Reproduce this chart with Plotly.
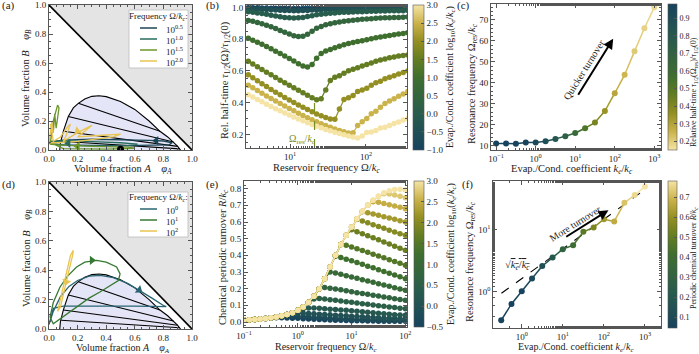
import numpy as np
import plotly.graph_objects as go
import plotly.colors as pc

FONT = "Liberation Serif"
W, H = 699, 354

CS = [[0.0, 'rgb(23,67,94)'], [0.25, 'rgb(40,92,76)'], [0.5, 'rgb(63,111,47)'],
      [0.62, 'rgb(98,124,34)'], [0.75, 'rgb(148,143,34)'], [0.87, 'rgb(201,177,72)'],
      [1.0, 'rgb(245,228,165)']]
CS_R = [[round(1 - p, 4), c] for p, c in reversed(CS)]


def col(v, lo, hi, scale=CS):
    t = min(max((v - lo) / (hi - lo), 0.0), 1.0)
    return pc.sample_colorscale(scale, [t])[0]


def PX(x):
    return x / W


def PY(y):
    return 1 - y / H


# ---------------- data: phase diagrams (a),(d) ----------------
BIN_A = [0.075, 0.08, 0.1, 0.135, 0.17, 0.205, 0.25, 0.3, 0.35, 0.4, 0.5, 0.6, 0.7, 0.776, 0.83, 0.87, 0.9, 0.92]
BIN_B = [0.0, 0.05, 0.129, 0.231, 0.29, 0.322, 0.352, 0.37, 0.374, 0.368, 0.335, 0.28, 0.2, 0.129, 0.09, 0.055, 0.025, 0.0]
TIE_A0 = [0.205, 0.135, 0.1, 0.085]
TIE_B0 = [0.322, 0.231, 0.129, 0.06]
TIE_A1 = [0.776, 0.87, 0.9, 0.915]
TIE_B1 = [0.129, 0.055, 0.025, 0.008]

LEGEND_TITLE = 'Frequency Ω/<i>k<sub>c</sub></i>:'
A_NAMES = ['10<sup>0.5</sup>', '10<sup>1.0</sup>', '10<sup>1.5</sup>', '10<sup>2.0</sup>']
A_COLORS = ['rgb(27,70,88)', 'rgb(40,108,92)', 'rgb(108,150,45)', 'rgb(232,196,80)']
A_TRAJ_A = [
    [0.0, 0.1, 0.3, 0.5, 0.7, 0.8, 0.86, 0.84, 0.7, 0.5, 0.3, 0.1, 0.0, 0.0],
    [0.0, 0.1, 0.3, 0.5, 0.62, 0.55, 0.35, 0.15, 0.02, 0.0],
    [0.01, 0.03, 0.06, 0.07, 0.05, 0.04, 0.03, 0.02, 0.01, 0.05, 0.3, 0.55, 0.6, 0.4, 0.1, 0.01],
    [0.0, 0.02, 0.03, 0.01, 0.03, 0.08, 0.13, 0.15, 0.12, 0.1, 0.2, 0.3, 0.25, 0.2, 0.35, 0.5, 0.45, 0.2, 0.05, 0.0],
]
A_TRAJ_B = [
    [0.055, 0.068, 0.074, 0.072, 0.066, 0.062, 0.05, 0.036, 0.032, 0.03, 0.032, 0.036, 0.045, 0.055],
    [0.06, 0.062, 0.058, 0.05, 0.04, 0.03, 0.028, 0.032, 0.04, 0.06],
    [0.05, 0.2, 0.31, 0.29, 0.15, 0.25, 0.12, 0.18, 0.04, 0.035, 0.025, 0.02, 0.012, 0.006, 0.01, 0.05],
    [0.05, 0.2, 0.12, 0.18, 0.06, 0.09, 0.16, 0.18, 0.1, 0.06, 0.12, 0.17, 0.13, 0.09, 0.1, 0.11, 0.09, 0.06, 0.05, 0.05],
]
A_ARROW_A = [0.75, 0.135, 0.2, 0.2]
A_ARROW_B = [0.064, 0.046, 0.026, 0.13]
A_ARROW_ANG = [270, 270, 270, 235]
DOT_A, DOT_B = [0.5], [0.006]

D_NAMES = ['10<sup>0</sup>', '10<sup>1</sup>', '10<sup>2</sup>']
D_COLORS = ['rgb(40,100,115)', 'rgb(55,120,50)', 'rgb(232,196,80)']
D_TRAJ_A = [
    [0.0, 0.03, 0.08, 0.14, 0.2, 0.28, 0.36, 0.45, 0.55, 0.63, 0.72, 0.8, 0.82, 0.6, 0.3, 0.1, 0.03, 0.0],
    [0.007, 0.03, 0.077, 0.13, 0.193, 0.25, 0.333, 0.4, 0.473, 0.497, 0.485, 0.42, 0.356, 0.28, 0.193, 0.1, 0.03, 0.007],
    [0.06, 0.09, 0.12, 0.15, 0.17, 0.165, 0.14, 0.12, 0.1, 0.08, 0.06],
]
D_TRAJ_B = [
    [0.03, 0.12, 0.22, 0.29, 0.33, 0.36, 0.365, 0.35, 0.31, 0.265, 0.21, 0.16, 0.152, 0.155, 0.157, 0.155, 0.14, 0.03],
    [0.08, 0.18, 0.286, 0.36, 0.422, 0.455, 0.467, 0.455, 0.422, 0.375, 0.33, 0.29, 0.252, 0.21, 0.15, 0.09, 0.036, 0.08],
    [0.12, 0.25, 0.38, 0.5, 0.535, 0.5, 0.4, 0.32, 0.22, 0.15, 0.12],
]
D_ARROW_A = [0.63, 0.3, 0.12]
D_ARROW_B = [0.265, 0.467, 0.32]
D_ARROW_ANG = [125, 90, 195]

# ---------------- data: (b) ----------------
B_X = 10 ** np.linspace(0.45, 2.55, 36)
B_KE = [-1.0, -0.5, 0.0, 0.5, 1.0, 1.5, 2.0, 2.5, 3.0]
B_VALS = [
    [0.997, 0.997, 0.997, 0.996, 0.996, 0.995, 0.995, 0.994, 0.994, 0.994, 0.993, 0.993,
     0.994, 0.994, 0.995, 0.995, 0.996, 0.996, 0.996, 0.997, 0.997, 0.997, 0.997, 0.997,
     0.998, 0.998, 0.998, 0.998, 0.998, 0.998, 0.998, 0.998, 0.998, 0.998, 0.998, 0.998],
    [0.991, 0.990, 0.989, 0.988, 0.986, 0.985, 0.983, 0.982, 0.981, 0.980, 0.979, 0.979,
     0.980, 0.981, 0.983, 0.984, 0.985, 0.986, 0.987, 0.988, 0.988, 0.989, 0.989, 0.989,
     0.990, 0.990, 0.990, 0.991, 0.991, 0.991, 0.991, 0.991, 0.992, 0.992, 0.992, 0.992],
    [0.972, 0.969, 0.965, 0.961, 0.956, 0.951, 0.946, 0.941, 0.937, 0.934, 0.933, 0.934,
     0.937, 0.942, 0.948, 0.953, 0.957, 0.960, 0.963, 0.965, 0.967, 0.969, 0.970, 0.971,
     0.972, 0.973, 0.974, 0.975, 0.976, 0.977, 0.977, 0.978, 0.978, 0.979, 0.979, 0.980],
    [0.918, 0.912, 0.905, 0.897, 0.888, 0.878, 0.867, 0.855, 0.843, 0.832, 0.822, 0.816,
     0.818, 0.830, 0.850, 0.868, 0.880, 0.890, 0.897, 0.903, 0.908, 0.912, 0.916, 0.919,
     0.922, 0.925, 0.927, 0.929, 0.931, 0.933, 0.934, 0.935, 0.936, 0.937, 0.938, 0.939],
    [0.805, 0.793, 0.780, 0.767, 0.753, 0.739, 0.724, 0.709, 0.694, 0.678, 0.662, 0.645,
     0.630, 0.625, 0.640, 0.680, 0.710, 0.725, 0.735, 0.745, 0.755, 0.765, 0.772, 0.778,
     0.785, 0.790, 0.796, 0.802, 0.808, 0.813, 0.818, 0.823, 0.828, 0.832, 0.836, 0.840],
    [0.660, 0.643, 0.626, 0.609, 0.592, 0.575, 0.558, 0.541, 0.525, 0.509, 0.493, 0.478,
     0.462, 0.446, 0.430, 0.418, 0.425, 0.480, 0.540, 0.560, 0.570, 0.585, 0.600, 0.610,
     0.620, 0.630, 0.640, 0.650, 0.660, 0.668, 0.675, 0.682, 0.688, 0.693, 0.697, 0.700],
    [0.575, 0.556, 0.537, 0.519, 0.501, 0.483, 0.466, 0.449, 0.432, 0.416, 0.400, 0.385,
     0.370, 0.356, 0.342, 0.329, 0.317, 0.306, 0.297, 0.295, 0.360, 0.420, 0.430, 0.445,
     0.470, 0.480, 0.490, 0.510, 0.525, 0.535, 0.550, 0.560, 0.570, 0.580, 0.590, 0.600],
    [0.510, 0.493, 0.476, 0.459, 0.442, 0.426, 0.410, 0.394, 0.378, 0.363, 0.348, 0.333,
     0.319, 0.305, 0.292, 0.279, 0.267, 0.255, 0.244, 0.234, 0.225, 0.216, 0.208, 0.210,
     0.255, 0.280, 0.300, 0.330, 0.345, 0.370, 0.395, 0.410, 0.425, 0.440, 0.455, 0.470],
    [0.450, 0.435, 0.420, 0.405, 0.390, 0.376, 0.362, 0.348, 0.335, 0.322, 0.309, 0.297,
     0.285, 0.273, 0.262, 0.251, 0.241, 0.231, 0.222, 0.213, 0.205, 0.197, 0.190, 0.183,
     0.177, 0.190, 0.212, 0.215, 0.225, 0.240, 0.245, 0.255, 0.268, 0.278, 0.290, 0.300],
]
B_RES_X = [21, 21]
B_RES_Y = [0.114, 0.418]

# ---------------- data: (c) ----------------
C_KE = [0.1, 0.178, 0.316, 0.562, 1, 1.78, 3.16, 5.62, 10, 17.8, 31.6, 56.2, 100, 178, 316, 562, 1000]
C_OMEGA = [11.0, 11.0, 10.9, 11.5, 11.5, 12.1, 13.2, 14.5, 16.0, 18.3, 21.0, 26.5, 35.0, 43.8, 55.0, 66.0, 76.0]
C_TAU = [0.994, 0.99, 0.979, 0.96, 0.933, 0.89, 0.816, 0.73, 0.625, 0.52, 0.418, 0.35, 0.292, 0.25, 0.208, 0.19, 0.177]

# ---------------- data: (e) ----------------
E_X = 10 ** np.linspace(-1, 2, 31)
E_ENV = [0.012, 0.013, 0.015, 0.018, 0.021, 0.025, 0.030, 0.037, 0.045, 0.055, 0.070, 0.090, 0.118, 0.155,
         0.200, 0.260, 0.330, 0.400, 0.465, 0.520, 0.570, 0.620, 0.665, 0.700, 0.730, 0.755, 0.775, 0.787,
         0.795, 0.800, 0.800]
E_KE = [-0.5, -0.25, 0.0, 0.25, 0.5, 0.75, 1.0, 1.25, 1.5, 1.75, 2.0, 2.25, 2.5, 2.75, 3.0]
E_SPLIT = [5, 7, 9, 11, 13, 15, 16, 17, 19, 20, 21, 22, 24, 26, 29]
E_TAILS = [
    [0.024, 0.025, 0.025, 0.024, 0.023, 0.022, 0.020, 0.018, 0.017, 0.015, 0.014, 0.012, 0.011, 0.010, 0.009,
     0.008, 0.007, 0.007, 0.006, 0.006, 0.005, 0.005, 0.005, 0.004, 0.004, 0.004],
    [0.034, 0.035, 0.035, 0.034, 0.033, 0.031, 0.029, 0.027, 0.025, 0.023, 0.021, 0.019, 0.018, 0.016, 0.015,
     0.014, 0.013, 0.012, 0.011, 0.010, 0.009, 0.009, 0.008, 0.008],
    [0.050, 0.052, 0.052, 0.051, 0.049, 0.047, 0.045, 0.043, 0.041, 0.039, 0.037, 0.035, 0.033, 0.031, 0.029,
     0.027, 0.025, 0.023, 0.022, 0.021, 0.020, 0.019],
    [0.080, 0.084, 0.084, 0.082, 0.080, 0.077, 0.075, 0.072, 0.070, 0.067, 0.064, 0.062, 0.059, 0.056, 0.053,
     0.050, 0.047, 0.044, 0.042, 0.040],
    [0.138, 0.141, 0.138, 0.134, 0.130, 0.126, 0.122, 0.118, 0.114, 0.110, 0.106, 0.102, 0.098, 0.094, 0.090,
     0.087, 0.083, 0.080],
    [0.207, 0.203, 0.198, 0.193, 0.187, 0.182, 0.176, 0.171, 0.166, 0.161, 0.156, 0.150, 0.145, 0.140, 0.135, 0.130],
    [0.300, 0.294, 0.286, 0.278, 0.270, 0.262, 0.254, 0.246, 0.238, 0.230, 0.222, 0.214, 0.206, 0.198, 0.190],
    [0.395, 0.387, 0.377, 0.367, 0.357, 0.346, 0.335, 0.325, 0.314, 0.303, 0.292, 0.282, 0.271, 0.260],
    [0.460, 0.450, 0.440, 0.429, 0.418, 0.407, 0.396, 0.385, 0.374, 0.363, 0.352, 0.340],
    [0.553, 0.542, 0.530, 0.518, 0.505, 0.493, 0.480, 0.468, 0.455, 0.443, 0.430],
    [0.615, 0.606, 0.595, 0.584, 0.573, 0.562, 0.551, 0.540, 0.530, 0.520],
    [0.662, 0.656, 0.648, 0.640, 0.632, 0.624, 0.616, 0.608, 0.600],
    [0.722, 0.718, 0.711, 0.704, 0.696, 0.688, 0.680],
    [0.770, 0.768, 0.762, 0.755, 0.746],
    [0.796, 0.792],
]

# ---------------- data: (f) ----------------
F_KE = [0.316, 0.562, 1, 1.78, 3.16, 5.62, 10, 17.8, 31.6, 56.2, 100, 178, 316, 562, 1000]
F_OMEGA = [0.35, 0.64, 1.02, 1.64, 2.6, 3.55, 4.85, 5.6, 9.2, 10.8, 14.7, 13.5, 26.9, 35.9, 49.0]
F_R = [0.02, 0.03, 0.05, 0.08, 0.14, 0.21, 0.30, 0.40, 0.48, 0.55, 0.62, 0.67, 0.72, 0.76, 0.80]
F_SQRT_X = [0.32, 1000]
F_SQRT_Y = [0.95, 44]

LOG_TXT = {-1: '10<sup>−1</sup>', 0: '10<sup>0</sup>', 1: '10<sup>1</sup>', 2: '10<sup>2</sup>', 3: '10<sup>3</sup>'}

fig = go.Figure()


def add_phase(xa, ya):
    fig.add_trace(go.Scatter(x=[0, 1, 1, 0], y=[1, 0, 1, 1], fill='toself', fillcolor='rgb(228,228,228)',
                             mode='lines', line=dict(width=0), xaxis=xa, yaxis=ya, showlegend=False, hoverinfo='skip'))
    fig.add_trace(go.Scatter(x=BIN_A, y=BIN_B, fill='toself', fillcolor='rgb(228,229,246)', mode='lines',
                             line=dict(color='black', width=1.1), xaxis=xa, yaxis=ya, showlegend=False))
    tx, ty = [], []
    for a0, b0, a1, b1 in zip(TIE_A0, TIE_B0, TIE_A1, TIE_B1):
        tx += [a0, a1, None]
        ty += [b0, b1, None]
    fig.add_trace(go.Scatter(x=tx, y=ty, mode='lines', line=dict(color='black', width=1.1),
                             xaxis=xa, yaxis=ya, showlegend=False))
    fig.add_trace(go.Scatter(x=[0, 1], y=[1, 0], mode='lines', line=dict(color='black', width=1.6),
                             xaxis=xa, yaxis=ya, showlegend=False))


# (a)
add_phase('x', 'y')
for nm, c, ta, tb in zip(A_NAMES, A_COLORS, A_TRAJ_A, A_TRAJ_B):
    fig.add_trace(go.Scatter(x=ta, y=tb, mode='lines', line=dict(color=c, width=1.3), name=nm,
                             xaxis='x', yaxis='y', showlegend=False))
fig.add_trace(go.Scatter(x=A_ARROW_A, y=A_ARROW_B, mode='markers',
                         marker=dict(symbol='triangle-up', size=8, angle=A_ARROW_ANG, color=A_COLORS),
                         xaxis='x', yaxis='y', showlegend=False))
fig.add_trace(go.Scatter(x=DOT_A, y=DOT_B, mode='markers', marker=dict(color='black', size=7),
                         xaxis='x', yaxis='y', showlegend=False))

# (d)
add_phase('x4', 'y4')
for nm, c, ta, tb in zip(D_NAMES, D_COLORS, D_TRAJ_A, D_TRAJ_B):
    fig.add_trace(go.Scatter(x=ta, y=tb, mode='lines', line=dict(color=c, width=1.3), name=nm,
                             xaxis='x4', yaxis='y4', showlegend=False))
fig.add_trace(go.Scatter(x=D_ARROW_A, y=D_ARROW_B, mode='markers',
                         marker=dict(symbol='triangle-up', size=8, angle=D_ARROW_ANG, color=D_COLORS),
                         xaxis='x4', yaxis='y4', showlegend=False))

# (b)
for k, vals in zip(B_KE, B_VALS):
    fig.add_trace(go.Scatter(x=B_X, y=vals, mode='lines+markers',
                             line=dict(color=col(k, -1, 3), width=1.2),
                             marker=dict(size=5.5, color=[k] * len(vals), coloraxis='coloraxis', line=dict(width=0)),
                             xaxis='x2', yaxis='y2', showlegend=False))
fig.add_trace(go.Scatter(x=B_RES_X, y=B_RES_Y, mode='lines', line=dict(color='rgb(120,140,40)', width=1.2, dash='dash'),
                         xaxis='x2', yaxis='y2', showlegend=False))

# (c)
for i in range(len(C_KE) - 1):
    fig.add_trace(go.Scatter(x=C_KE[i:i + 2], y=C_OMEGA[i:i + 2], mode='lines',
                             line=dict(color=col((C_TAU[i] + C_TAU[i + 1]) / 2, 0.152, 0.98, CS_R), width=1.5),
                             xaxis='x3', yaxis='y3', showlegend=False))
fig.add_trace(go.Scatter(x=C_KE, y=C_OMEGA, mode='markers',
                         marker=dict(size=6, color=C_TAU, coloraxis='coloraxis2', line=dict(width=0)),
                         xaxis='x3', yaxis='y3', showlegend=False))

# (e)
for k, n, tail in zip(E_KE, E_SPLIT, E_TAILS):
    vals = E_ENV[:n] + tail
    fig.add_trace(go.Scatter(x=E_X, y=vals, mode='lines+markers',
                             line=dict(color=col(k, -0.5, 3), width=1.2),
                             marker=dict(size=5.5, color=[k] * len(vals), coloraxis='coloraxis3', line=dict(width=0)),
                             xaxis='x5', yaxis='y5', showlegend=False))

# (f)
fig.add_trace(go.Scatter(x=F_SQRT_X, y=F_SQRT_Y, mode='lines', line=dict(color='black', width=1.1, dash='dash'),
                         xaxis='x6', yaxis='y6', showlegend=False))
for i in range(len(F_KE) - 1):
    fig.add_trace(go.Scatter(x=F_KE[i:i + 2], y=F_OMEGA[i:i + 2], mode='lines',
                             line=dict(color=col((F_R[i] + F_R[i + 1]) / 2, 0.047, 0.78), width=1.5),
                             xaxis='x6', yaxis='y6', showlegend=False))
fig.add_trace(go.Scatter(x=F_KE, y=F_OMEGA, mode='markers',
                         marker=dict(size=6, color=F_R, coloraxis='coloraxis4', line=dict(width=0)),
                         xaxis='x6', yaxis='y6', showlegend=False))


def axis(domain, anchor, rng, typ='linear', **kw):
    d = dict(domain=domain, anchor=anchor, range=rng, type=typ, showline=True, linecolor='#555',
             linewidth=0.8, mirror='ticks', ticks='inside', ticklen=4, tickwidth=0.8, tickcolor='#555',
             showgrid=False, zeroline=False, tickfont=dict(family=FONT, size=9, color='#222'),
             minor=dict(ticks='inside', ticklen=2, tickwidth=0.6, tickcolor='#555'))
    d.update(kw)
    return d


def logticks(lo, hi):
    vals = list(range(lo, hi + 1))
    return dict(tickvals=[10 ** v for v in vals], ticktext=[LOG_TXT[v] for v in vals])


def cbar(x, y0, y1, tickvals, thick=10, fmt='.1f', fsize=9):
    return dict(x=PX(x), xanchor='left', y=PY((y0 + y1) / 2), yanchor='middle', len=(y1 - y0) / H,
                lenmode='fraction', thickness=thick, thicknessmode='pixels', xpad=0, ypad=0,
                outlinewidth=0.6, outlinecolor='#555', ticks='inside', ticklen=3, tickcolor='#555',
                tickvals=tickvals, tickformat=fmt, tickfont=dict(family=FONT, size=fsize, color='#222'))


DA = [PX(49), PX(192)]
DB = [PX(246), PX(407)]
DC = [PX(491), PX(661)]
DE = [PX(244), PX(407)]
DF = [PX(493), PX(661)]

lin01 = dict(dtick=0.2, tickformat='.1f')

ann = []
shapes = []


def text(x, y, t, size=10.5, angle=0, xa='center', ya='middle', color='#222'):
    ann.append(dict(x=PX(x), y=PY(y), xref='paper', yref='paper', text=t, showarrow=False, textangle=angle,
                    font=dict(family=FONT, size=size, color=color), xanchor=xa, yanchor=ya))


def legend_box(x0, y0, x1, y1, title_y, rows_y, names, colors, lx0, lx1, tx):
    shapes.append(dict(type='rect', xref='paper', yref='paper', x0=PX(x0), x1=PX(x1), y0=PY(y1), y1=PY(y0),
                       fillcolor='white', line=dict(color='#bbb', width=0.8), layer='above'))
    text((x0 + x1) / 2, title_y, LEGEND_TITLE, size=9)
    for ry, nm, c in zip(rows_y, names, colors):
        shapes.append(dict(type='line', xref='paper', yref='paper', x0=PX(lx0), x1=PX(lx1), y0=PY(ry), y1=PY(ry),
                           line=dict(color=c, width=1.5), layer='above'))
        text(tx, ry + 1, nm, size=9, xa='left')


legend_box(129, 10, 188, 68, 17, [28, 39, 50, 61], A_NAMES, A_COLORS, 140, 157, 164)
legend_box(128, 192, 188, 237, 198, [209, 220, 231], D_NAMES, D_COLORS, 140, 157, 164)

for lab, x, y in [('(a)', 0, 6), ('(b)', 204, 6), ('(c)', 455, 6), ('(d)', 0, 184), ('(e)', 204, 184), ('(f)', 460, 184)]:
    text(x, y, lab, size=11, xa='left')

text(27, 78, 'Volume fraction <i>B</i>    <i>φ<sub>B</sub></i>', angle=-90)
text(123, 169, 'Volume fraction <i>A</i>    <i>φ<sub>A</sub></i>')
text(27, 258, 'Volume fraction <i>B</i>    <i>φ<sub>B</sub></i>', angle=-90)
text(123, 348, 'Volume fraction <i>A</i>    <i>φ<sub>A</sub></i>', size=10)
text(225, 80, 'Rel. half-time <i>τ</i><sub>1/2</sub>(Ω)/<i>τ</i><sub>1/2</sub>(0)', angle=-90)
text(326, 168.5, 'Reservoir frequency Ω/<i>k<sub>c</sub></i>')
text(472, 84, 'Resonance frequency Ω<sub>res</sub>/<i>k<sub>c</sub></i>', angle=-90)
text(572, 169, 'Evap./Cond. coefficient <i>k<sub>e</sub></i>/<i>k<sub>c</sub></i>')
text(223, 257, 'Chemical periodic turnover <i>R</i>/<i>k<sub>c</sub></i>', angle=-90)
text(326, 347.5, 'Reservoir frequency Ω/<i>k<sub>c</sub></i>', size=10)
text(470, 262, 'Resonance frequency Ω<sub>res</sub>/<i>k<sub>c</sub></i>', angle=-90)
text(576, 347.5, 'Evap./Cond. coefficient <i>k<sub>e</sub></i>/<i>k<sub>c</sub></i>', size=10)

# colorbar titles
text(451, 77, 'Evap./Cond. coefficient log<sub>10</sub>(<i>k<sub>e</sub></i>/<i>k<sub>c</sub></i>)', size=10, angle=-90)
text(451, 254, 'Evap./Cond. coefficient log<sub>10</sub>(<i>k<sub>e</sub></i>/<i>k<sub>c</sub></i>)', size=10, angle=-90)
text(694, 92, 'Relative half-time <i>τ</i><sub>1/2</sub>(Ω<sub>res</sub>)/<i>τ</i><sub>1/2</sub>(0)', size=8, angle=-90)
text(694, 258, 'Periodic chemical turnover <i>R</i>/<i>k<sub>c</sub></i>', size=8, angle=-90)

ann.append(dict(x=1.17, y=0.17, xref='x2', yref='y2', text='Ω<sub>res</sub>/<i>k<sub>c</sub></i>', showarrow=False,
                font=dict(family=FONT, size=10, color='rgb(120,140,40)')))
ann.append(dict(x=1.96, y=61, ax=1.0, ay=32, xref='x3', yref='y3', axref='x3', ayref='y3', text=' ',
                showarrow=True, arrowhead=2, arrowsize=1, arrowwidth=2, arrowcolor='black'))
ann.append(dict(x=1.22, y=46.5, xref='x3', yref='y3', text='Quicker turnover', showarrow=False, textangle=-58,
                font=dict(family=FONT, size=10, color='#222')))
ann.append(dict(x=2.11, y=1.31, ax=1.01, ay=0.855, xref='x6', yref='y6', axref='x6', ayref='y6', text=' ',
                showarrow=True, arrowhead=2, arrowsize=1, arrowwidth=2, arrowcolor='black'))
ann.append(dict(x=1.3, y=1.1, xref='x6', yref='y6', text='More turnover', showarrow=False, textangle=-32,
                font=dict(family=FONT, size=10, color='#222')))
ann.append(dict(x=-0.1, y=0.43, xref='x6', yref='y6',
                text="√<span style='text-decoration:overline'><i>k<sub>e</sub></i>/<i>k<sub>c</sub></i></span>",
                showarrow=False, font=dict(family=FONT, size=10.5, color='#222')))

fig.update_layout(
    width=W, height=H, margin=dict(l=0, r=0, t=0, b=0, autoexpand=False), paper_bgcolor='white', plot_bgcolor='white',
    font=dict(family=FONT, size=10, color='#222'), showlegend=False,
    xaxis=axis(DA, 'y', [0, 1], **lin01),
    yaxis=axis([PY(150), PY(5)], 'x', [0, 1], **lin01),
    xaxis4=axis(DA, 'y4', [0, 1], **lin01),
    yaxis4=axis([PY(329), PY(182)], 'x4', [0, 1], **lin01),
    xaxis2=axis(DB, 'y2', [0.42, 2.54], 'log', **logticks(1, 2)),
    yaxis2=axis([PY(148), PY(5)], 'x2', [0.114, 1.015], dtick=0.2, tickformat='.1f'),
    xaxis3=axis(DC, 'y3', [-1.13, 3.17], 'log', **logticks(-1, 3)),
    yaxis3=axis([PY(150), PY(4)], 'x3', [7.9, 77.6], dtick=10),
    xaxis5=axis(DE, 'y5', [-1.0, 2.03], 'log', **logticks(-1, 2)),
    yaxis5=axis([PY(327), PY(181)], 'x5', [-0.03, 0.846], dtick=0.1, tickformat='.1f'),
    xaxis6=axis(DF, 'y6', [-0.7, 3.39], 'log', **logticks(0, 3)),
    yaxis6=axis([PY(328), PY(181)], 'x6', [-0.58, 1.78], 'log', **logticks(0, 1)),
    coloraxis=dict(cmin=-1, cmax=3, colorscale=CS,
                   colorbar=cbar(413, 5, 150, [-1, -0.5, 0, 0.5, 1, 1.5, 2, 2.5, 3], 11)),
    coloraxis2=dict(cmin=0.152, cmax=0.98, colorscale=CS_R,
                    colorbar=cbar(668, 4, 150, [0.2, 0.3, 0.4, 0.5, 0.6, 0.7, 0.8, 0.9], 9, fsize=8)),
    coloraxis3=dict(cmin=-0.5, cmax=3, colorscale=CS,
                    colorbar=cbar(414, 181, 327, [-0.5, 0, 0.5, 1, 1.5, 2, 2.5, 3], 10)),
    coloraxis4=dict(cmin=0.047, cmax=0.78, colorscale=CS,
                    colorbar=cbar(668, 181, 328, [0.1, 0.2, 0.3, 0.4, 0.5, 0.6, 0.7], 9, fsize=8)),
    annotations=ann,
    shapes=shapes,
)

fig.write_html("out.html", config={'displayModeBar': False},
               post_script="document.body.style.margin='0px';document.body.style.overflow='hidden';")
